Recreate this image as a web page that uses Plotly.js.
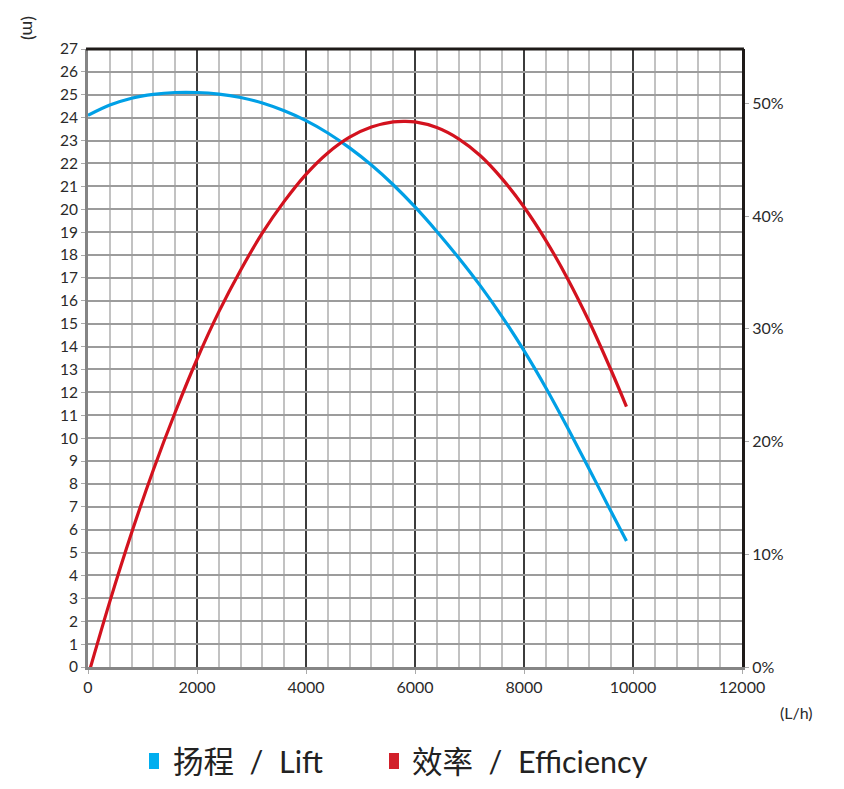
<!DOCTYPE html>
<html>
<head>
<meta charset="utf-8">
<script src="https://cdn.plot.ly/plotly-3.0.1.min.js"></script>
<style>
html,body{margin:0;padding:0;background:#fff;}
#chart{width:844px;height:789px;}
</style>
</head>
<body>
<div id="chart"></div>
<script>
// Flow (L/h) and lift (m)
var liftFlow = [0, 400, 800, 1200, 1600, 2000, 2400, 2800, 3200, 3600, 4000, 4400, 4800, 5200, 5600, 6000, 6400, 6800, 7200, 7600, 8000, 8400, 8800, 9200, 9600, 9880];
var liftHead = [24.1, 24.55, 24.85, 25.02, 25.1, 25.1, 25.03, 24.88, 24.64, 24.3, 23.87, 23.33, 22.68, 21.93, 21.07, 20.1, 19.03, 17.88, 16.65, 15.3, 13.82, 12.2, 10.45, 8.63, 6.78, 5.5];

// Flow (L/h) and efficiency (%)
var effFlow = [0, 400, 800, 1200, 1600, 2000, 2400, 2800, 3200, 3600, 4000, 4400, 4800, 5200, 5600, 5800, 6000, 6400, 6800, 7200, 7600, 8000, 8400, 8800, 9200, 9600, 9880];
var effPct = [-0.8, 5.8, 11.9, 17.5, 22.6, 27.3, 31.5, 35.2, 38.5, 41.3, 43.7, 45.6, 47.0, 47.9, 48.35, 48.4, 48.35, 47.85, 46.85, 45.35, 43.3, 40.8, 37.85, 34.45, 30.6, 26.3, 23.1];

var leftTicks = [0,1,2,3,4,5,6,7,8,9,10,11,12,13,14,15,16,17,18,19,20,21,22,23,24,25,26,27];
var rightTicks = [0, 10, 20, 30, 40, 50];
var rightTickText = ['0%', '10%', '20%', '30%', '40%', '50%'];
var xTicks = [0, 2000, 4000, 6000, 8000, 10000, 12000];

var seriesNames = ['扬程  /  Lift', '效率  /  Efficiency'];
var xUnit = '(L/h)';
var yUnit = '(m)';

var blue = '#00a0e6';
var red = '#d3121e';
var font = 'Lato, "Noto Sans CJK SC", sans-serif';

var traces = [
  {x: liftFlow, y: liftHead, type: 'scatter', mode: 'lines', name: seriesNames[0],
   line: {color: blue, width: 3.2, shape: 'spline', smoothing: 1}, yaxis: 'y', hoverinfo: 'skip'},
  {x: effFlow, y: effPct, type: 'scatter', mode: 'lines', name: seriesNames[1],
   line: {color: red, width: 3.2, shape: 'spline', smoothing: 1}, yaxis: 'y2', hoverinfo: 'skip'}
];

var layout = {
  width: 844, height: 789,
  margin: {l: 88, r: 102, t: 49, b: 122},
  paper_bgcolor: '#fff', plot_bgcolor: '#fff',
  showlegend: false,
  font: {family: font, color: '#2a2a2a', size: 16},
  xaxis: {
    range: [0, 12000], tickvals: xTicks, ticktext: xTicks.map(String),
    showgrid: true, gridcolor: '#3c3c3c', gridwidth: 1.2,
    minor: {dtick: 400, tick0: 0, showgrid: true, gridcolor: '#c2c2c2', gridwidth: 2, ticks: ''},
    showline: true, linecolor: '#858585', linewidth: 3,
    ticks: 'outside', ticklen: 4, tickcolor: '#aaa', tickwidth: 1,
    zeroline: false, tickfont: {size: 16, color: '#2a2a2a'}, fixedrange: true
  },
  yaxis: {
    range: [0, 27], tickvals: leftTicks, ticktext: leftTicks.map(String),
    showgrid: true, gridcolor: '#9c9c9c', gridwidth: 2,
    showline: true, linecolor: '#858585', linewidth: 3,
    ticks: 'outside', ticklen: 4, tickcolor: '#aaa', tickwidth: 1,
    zeroline: false, tickfont: {size: 15.5, color: '#2a2a2a'}, fixedrange: true
  },
  yaxis2: {
    overlaying: 'y', side: 'right', range: [0, 54.82],
    tickvals: rightTicks, ticktext: rightTickText,
    showgrid: false, showline: true, linecolor: '#1e1a18', linewidth: 3,
    ticks: 'outside', ticklen: 4, tickcolor: '#aaa', tickwidth: 1,
    zeroline: false, tickfont: {size: 16, color: '#2a2a2a'}, fixedrange: true
  },
  shapes: [
    {type: 'line', xref: 'paper', yref: 'paper', x0: -0.003, x1: 1.003, y0: 1, y1: 1,
     line: {color: '#1e1a18', width: 3}},
    {type: 'rect', xref: 'paper', yref: 'paper', x0: (149 - 88) / 654, x1: (159 - 88) / 654,
     y0: (667 - 769) / 618, y1: (667 - 753) / 618, fillcolor: '#00aeef', line: {width: 0}},
    {type: 'rect', xref: 'paper', yref: 'paper', x0: (389 - 88) / 654, x1: (399 - 88) / 654,
     y0: (667 - 769) / 618, y1: (667 - 753) / 618, fillcolor: '#d2202a', line: {width: 0}}
  ],
  annotations: [
    {text: yUnit, xref: 'paper', yref: 'paper', x: (30 - 88) / 654, y: (667 - 28) / 618,
     showarrow: false, textangle: 90, font: {size: 18, color: '#2a2a2a'}, xanchor: 'center', yanchor: 'middle'},
    {text: xUnit, xref: 'paper', yref: 'paper', x: (796 - 88) / 654, y: (667 - 712) / 618,
     showarrow: false, font: {size: 16, color: '#2a2a2a'}, xanchor: 'center', yanchor: 'middle'},
    {text: seriesNames[0], xref: 'paper', yref: 'paper', x: (171 - 88) / 654, y: (667 - 761) / 618,
     showarrow: false, font: {size: 30.5, color: '#222'}, xanchor: 'left', yanchor: 'middle'},
    {text: seriesNames[1], xref: 'paper', yref: 'paper', x: (410 - 88) / 654, y: (667 - 761) / 618,
     showarrow: false, font: {size: 30.5, color: '#222'}, xanchor: 'left', yanchor: 'middle'}
  ]
};

Plotly.newPlot('chart', traces, layout, {displayModeBar: false, staticPlot: true});
</script>
</body>
</html>
